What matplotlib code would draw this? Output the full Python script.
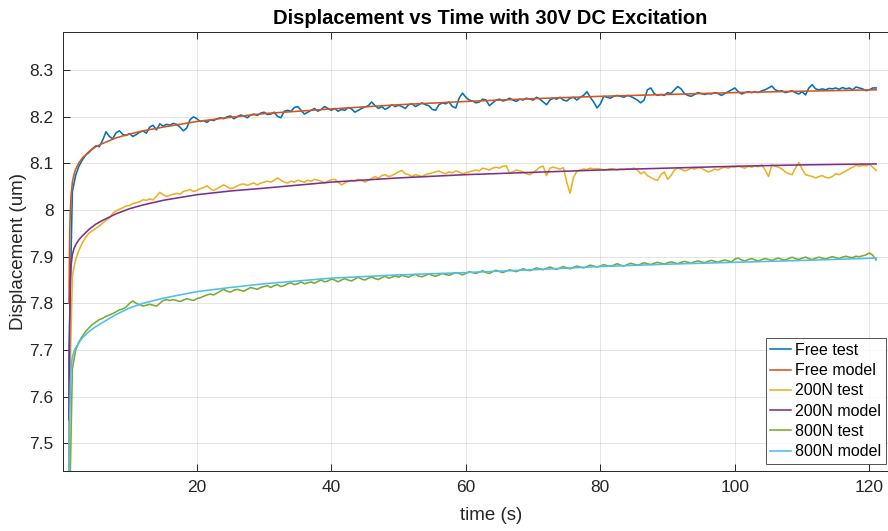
import numpy as np
import matplotlib
matplotlib.use("Agg")
import matplotlib.pyplot as plt

plt.rcParams['font.family'] = ['Liberation Sans', 'DejaVu Sans']

# Model curves (fitted creep response)
t_model = [1.0, 1.1, 1.2, 1.3, 1.5, 1.75, 2, 2.5, 3, 4, 5, 6, 8, 10, 12, 15, 20,
           25, 30, 40, 50, 60, 70, 80, 90, 100, 110, 121]
free_model = [7.80, 7.95, 8.00, 8.03, 8.06, 8.077, 8.088, 8.102, 8.112, 8.126,
              8.136, 8.143, 8.155, 8.163, 8.170, 8.178, 8.190, 8.199, 8.207,
              8.217, 8.226, 8.233, 8.239, 8.244, 8.248, 8.252, 8.255, 8.258]
n200_model = [7.55, 7.75, 7.85, 7.88, 7.905, 7.918, 7.926, 7.937, 7.945, 7.959,
              7.970, 7.978, 7.992, 8.003, 8.011, 8.021, 8.033, 8.041, 8.047,
              8.060, 8.069, 8.076, 8.081, 8.086, 8.090, 8.094, 8.097, 8.099]
n800_model = [7.30, 7.55, 7.63, 7.66, 7.685, 7.697, 7.705, 7.716, 7.726, 7.740,
              7.750, 7.759, 7.776, 7.790, 7.800, 7.811, 7.825, 7.834, 7.842,
              7.854, 7.861, 7.866, 7.872, 7.879, 7.884, 7.888, 7.892, 7.897]

# Measured test data: zero before loading, then one sample every 0.5 s from 1 s to 121 s
t_test = [0.95] + [1.0 + 0.5 * i for i in range(241)]
free_test = [0.0,
    7.70, 8.04, 8.075, 8.095, 8.108, 8.118, 8.124, 8.132, 8.138, 8.136,
    8.150, 8.168, 8.158, 8.153, 8.166, 8.170, 8.162, 8.160, 8.164, 8.158,
    8.162, 8.167, 8.170, 8.165, 8.178, 8.182, 8.172, 8.185, 8.180, 8.184,
    8.182, 8.186, 8.184, 8.178, 8.170, 8.176, 8.194, 8.200, 8.196, 8.190,
    8.192, 8.188, 8.194, 8.192, 8.196, 8.198, 8.196, 8.200, 8.202, 8.196,
    8.200, 8.204, 8.202, 8.198, 8.204, 8.206, 8.203, 8.208, 8.210, 8.205,
    8.206, 8.210, 8.201, 8.198, 8.212, 8.214, 8.212, 8.220, 8.222, 8.214,
    8.206, 8.210, 8.214, 8.218, 8.212, 8.216, 8.222, 8.218, 8.214, 8.218,
    8.212, 8.216, 8.214, 8.220, 8.217, 8.210, 8.214, 8.218, 8.221, 8.224,
    8.232, 8.224, 8.218, 8.222, 8.216, 8.220, 8.226, 8.222, 8.225, 8.222,
    8.218, 8.226, 8.228, 8.222, 8.226, 8.230, 8.226, 8.224, 8.216, 8.214,
    8.226, 8.230, 8.228, 8.232, 8.222, 8.219, 8.240, 8.251, 8.242, 8.236,
    8.234, 8.230, 8.232, 8.238, 8.236, 8.224, 8.230, 8.236, 8.238, 8.234,
    8.236, 8.240, 8.236, 8.233, 8.238, 8.236, 8.240, 8.238, 8.236, 8.242,
    8.238, 8.232, 8.226, 8.236, 8.240, 8.238, 8.242, 8.236, 8.234, 8.240,
    8.242, 8.236, 8.242, 8.246, 8.254, 8.242, 8.232, 8.219, 8.228, 8.244,
    8.242, 8.240, 8.244, 8.246, 8.244, 8.242, 8.246, 8.244, 8.240, 8.236,
    8.230, 8.236, 8.258, 8.262, 8.250, 8.246, 8.248, 8.246, 8.252, 8.250,
    8.258, 8.265, 8.260, 8.250, 8.246, 8.244, 8.248, 8.252, 8.250, 8.248,
    8.250, 8.249, 8.252, 8.250, 8.246, 8.250, 8.254, 8.258, 8.262, 8.254,
    8.249, 8.252, 8.254, 8.252, 8.254, 8.252, 8.256, 8.258, 8.262, 8.266,
    8.258, 8.255, 8.256, 8.252, 8.254, 8.256, 8.252, 8.249, 8.254, 8.247,
    8.262, 8.269, 8.260, 8.258, 8.260, 8.258, 8.261, 8.260, 8.262, 8.259,
    8.263, 8.260, 8.262, 8.258, 8.264, 8.262, 8.260, 8.256, 8.258, 8.262,
    8.262]
n200_test = [0.0,
    7.55, 7.86, 7.895, 7.915, 7.930, 7.942, 7.951, 7.956, 7.961, 7.966,
    7.972, 7.978, 7.983, 7.993, 7.998, 8.002, 8.005, 8.009, 8.010, 8.014,
    8.016, 8.018, 8.022, 8.021, 8.024, 8.022, 8.030, 8.038, 8.033, 8.029,
    8.032, 8.034, 8.036, 8.034, 8.040, 8.042, 8.044, 8.040, 8.042, 8.046,
    8.048, 8.052, 8.046, 8.042, 8.046, 8.050, 8.054, 8.050, 8.046, 8.048,
    8.052, 8.055, 8.056, 8.053, 8.056, 8.058, 8.054, 8.058, 8.060, 8.062,
    8.060, 8.064, 8.069, 8.064, 8.060, 8.058, 8.062, 8.060, 8.064, 8.062,
    8.060, 8.064, 8.062, 8.066, 8.064, 8.062, 8.058, 8.062, 8.065, 8.066,
    8.060, 8.054, 8.058, 8.062, 8.064, 8.062, 8.066, 8.064, 8.060, 8.064,
    8.068, 8.072, 8.068, 8.074, 8.076, 8.072, 8.074, 8.078, 8.082, 8.085,
    8.078, 8.076, 8.072, 8.076, 8.074, 8.072, 8.076, 8.078, 8.080, 8.082,
    8.084, 8.080, 8.078, 8.082, 8.080, 8.084, 8.082, 8.078, 8.080, 8.082,
    8.084, 8.086, 8.084, 8.090, 8.088, 8.086, 8.090, 8.092, 8.090, 8.094,
    8.095, 8.079, 8.082, 8.086, 8.084, 8.082, 8.078, 8.076, 8.080, 8.086,
    8.092, 8.094, 8.074, 8.090, 8.092, 8.090, 8.088, 8.091, 8.060, 8.036,
    8.070, 8.083, 8.086, 8.088, 8.087, 8.090, 8.088, 8.089, 8.088, 8.086,
    8.087, 8.089, 8.088, 8.086, 8.088, 8.087, 8.089, 8.088, 8.090, 8.086,
    8.078, 8.082, 8.074, 8.070, 8.066, 8.064, 8.076, 8.082, 8.066, 8.074,
    8.086, 8.090, 8.088, 8.084, 8.086, 8.090, 8.088, 8.091, 8.090, 8.086,
    8.082, 8.084, 8.088, 8.086, 8.090, 8.092, 8.090, 8.093, 8.092, 8.094,
    8.092, 8.090, 8.094, 8.092, 8.095, 8.093, 8.097, 8.086, 8.072, 8.097,
    8.094, 8.092, 8.088, 8.082, 8.078, 8.076, 8.090, 8.102, 8.088, 8.076,
    8.074, 8.072, 8.069, 8.072, 8.074, 8.070, 8.069, 8.072, 8.078, 8.076,
    8.080, 8.084, 8.088, 8.092, 8.096, 8.094, 8.096, 8.095, 8.098, 8.092,
    8.085]
n800_test = [0.0,
    7.30, 7.66, 7.700, 7.718, 7.730, 7.740, 7.748, 7.755, 7.760, 7.765,
    7.768, 7.772, 7.775, 7.778, 7.782, 7.786, 7.788, 7.792, 7.800, 7.805,
    7.800, 7.797, 7.794, 7.796, 7.798, 7.796, 7.794, 7.800, 7.806, 7.808,
    7.806, 7.808, 7.806, 7.804, 7.807, 7.810, 7.808, 7.806, 7.810, 7.812,
    7.815, 7.818, 7.820, 7.818, 7.822, 7.826, 7.830, 7.826, 7.824, 7.828,
    7.830, 7.828, 7.826, 7.830, 7.834, 7.832, 7.830, 7.834, 7.836, 7.838,
    7.834, 7.838, 7.840, 7.836, 7.838, 7.842, 7.844, 7.840, 7.842, 7.846,
    7.842, 7.844, 7.846, 7.843, 7.847, 7.850, 7.846, 7.848, 7.852, 7.850,
    7.846, 7.850, 7.853, 7.850, 7.848, 7.852, 7.856, 7.852, 7.850, 7.854,
    7.856, 7.853, 7.851, 7.855, 7.858, 7.854, 7.856, 7.859, 7.856, 7.860,
    7.858, 7.856, 7.860, 7.862, 7.858, 7.857, 7.860, 7.863, 7.860, 7.858,
    7.861, 7.864, 7.862, 7.860, 7.863, 7.866, 7.864, 7.861, 7.864, 7.868,
    7.866, 7.864, 7.867, 7.870, 7.866, 7.864, 7.868, 7.871, 7.868, 7.866,
    7.869, 7.872, 7.870, 7.868, 7.871, 7.874, 7.872, 7.870, 7.873, 7.876,
    7.874, 7.872, 7.875, 7.878, 7.875, 7.873, 7.876, 7.879, 7.876, 7.874,
    7.877, 7.880, 7.878, 7.876, 7.879, 7.882, 7.880, 7.878, 7.880, 7.883,
    7.881, 7.879, 7.882, 7.885, 7.882, 7.880, 7.883, 7.886, 7.884, 7.882,
    7.884, 7.887, 7.885, 7.883, 7.886, 7.888, 7.886, 7.884, 7.887, 7.889,
    7.887, 7.885, 7.888, 7.890, 7.888, 7.886, 7.889, 7.891, 7.889, 7.887,
    7.890, 7.892, 7.890, 7.888, 7.891, 7.893, 7.891, 7.889, 7.895, 7.897,
    7.893, 7.891, 7.894, 7.896, 7.893, 7.891, 7.894, 7.896, 7.894, 7.892,
    7.895, 7.897, 7.894, 7.893, 7.896, 7.899, 7.896, 7.894, 7.897, 7.899,
    7.896, 7.894, 7.897, 7.899, 7.897, 7.895, 7.898, 7.900, 7.898, 7.896,
    7.899, 7.901, 7.899, 7.898, 7.901, 7.900, 7.902, 7.904, 7.908, 7.903,
    7.893]

x_ticks = [20, 40, 60, 80, 100, 120]
y_ticks = [7.5, 7.6, 7.7, 7.8, 7.9, 8.0, 8.1, 8.2, 8.3]
y_tick_labels = ['7.5', '7.6', '7.7', '7.8', '7.9', '8', '8.1', '8.2', '8.3']

series = [
    (t_test, free_test, '#0072BD', 'Free test'),
    (t_model, free_model, '#D95319', 'Free model'),
    (t_test, n200_test, '#EDB120', '200N test'),
    (t_model, n200_model, '#7E2F8E', '200N model'),
    (t_test, n800_test, '#77AC30', '800N test'),
    (t_model, n800_model, '#4DBEEE', '800N model'),
]

W, H = 888, 531
fig = plt.figure(figsize=(W / 100, H / 100), dpi=100)
# axes box runs slightly past the right edge of the canvas
left, right, top, bottom = 63.3, 918.0, 32.0, 470.7
ax = fig.add_axes([left / W, 1 - bottom / H, (right - left) / W, (bottom - top) / H])

for x, y, c, lab in series:
    ax.plot(x, y, color=c, lw=1.15, label=lab)

ax.set_xlim(0.15, 0.15 + (right - left) / 6.726)
ax.set_ylim(7.441, 8.382)
ax.set_xticks(x_ticks)
ax.set_yticks(y_ticks)
ax.set_yticklabels(y_tick_labels)

axc = '#262626'
ax.grid(True, color=axc, alpha=0.12, lw=0.7)
ax.tick_params(direction='in', length=5, width=0.7, colors=axc,
               labelsize=12.5, top=True, right=True, pad=7)
for s in ax.spines.values():
    s.set_color(axc)
    s.set_linewidth(0.7)

ax.set_xlabel('time (s)', fontsize=13.5, color=axc, labelpad=8)
ax.set_ylabel('Displacement (um)', fontsize=13.5, color=axc, labelpad=2)
ax.set_title('Displacement vs Time with 30V DC Excitation', fontsize=14.5,
             fontweight='bold', color='black', pad=6)

leg = ax.legend(loc='lower right', bbox_to_anchor=(886 / W, 1 - 464 / H),
                bbox_transform=fig.transFigure, fontsize=11.5, frameon=True,
                fancybox=False, edgecolor=axc, handlelength=1.3,
                handletextpad=0.25, labelspacing=0.33, borderpad=0.3,
                borderaxespad=0.0)
leg.get_frame().set_linewidth(0.7)

fig.savefig('out.png', dpi=100)
